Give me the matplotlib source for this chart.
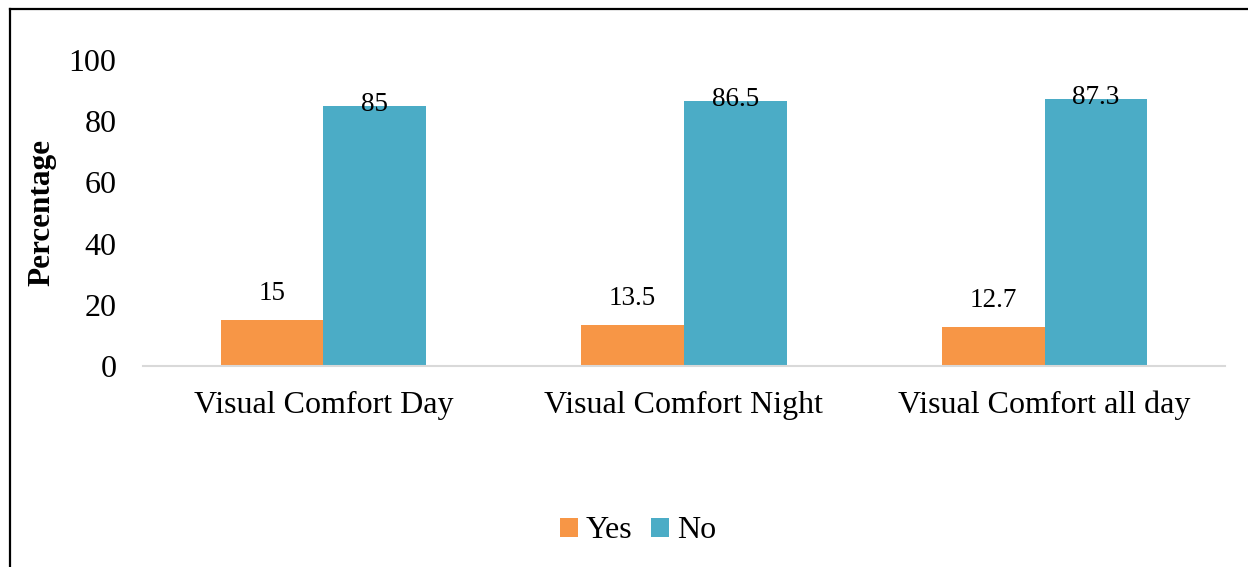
import matplotlib
matplotlib.use("Agg")
import matplotlib.pyplot as plt
import numpy as np
from matplotlib.lines import Line2D

categories = ["Visual Comfort Day", "Visual Comfort Night", "Visual Comfort all day"]
yes_vals = [15, 13.5, 12.7]
no_vals = [85, 86.5, 87.3]
yes_labels = ["15", "13.5", "12.7"]
no_labels = ["85", "86.5", "87.3"]
yticks = [0, 20, 40, 60, 80, 100]

plt.rcParams['font.family'] = ['Liberation Serif', 'DejaVu Serif']

fig = plt.figure(figsize=(12.48, 5.67), dpi=100)
ax = fig.add_axes([143/1248, 1-366/567, (1225-143)/1248, (366-60)/567])

x = np.arange(len(categories))
w = 0.285
c_yes = "#F79646"
c_no = "#4BACC6"
b1 = ax.bar(x - w/2, yes_vals, w, color=c_yes, label="Yes")
b2 = ax.bar(x + w/2, no_vals, w, color=c_no, label="No")

for xi, v, t in zip(x - w/2, yes_vals, yes_labels):
    ax.annotate(t, (xi, v), xytext=(0, 19), textcoords="offset points",
                ha="center", va="center", fontsize=19.5)
for xi, v, t in zip(x + w/2, no_vals, no_labels):
    ax.annotate(t, (xi, v), xytext=(0, 1), textcoords="offset points",
                ha="center", va="center", fontsize=19.5)

ax.set_xlim(-0.5, 2.5)
ax.set_ylim(0, 100)
ax.set_yticks(yticks)
ax.set_xticks(x)
ax.set_xticklabels(categories)
ax.tick_params(axis="both", length=0, labelsize=23)
ax.tick_params(axis="y", pad=19)
ax.tick_params(axis="x", pad=18)
for s in ["top", "right", "left"]:
    ax.spines[s].set_visible(False)
ax.spines["bottom"].set_color("#D9D9D9")
ax.spines["bottom"].set_linewidth(1.5)

fig.text(42/1248, 1-213/567, "Percentage", rotation=90, ha="center", va="center",
         fontsize=22.5, fontweight="bold")

leg = fig.legend(handles=[b1, b2], labels=["Yes", "No"], loc="center",
                 bbox_to_anchor=(638/1248, 1-531/567), ncol=2, frameon=False,
                 fontsize=23, handlelength=0.55, handleheight=0.55, handletextpad=0.25,
                 columnspacing=0.6)

# frame border lines
fig.add_artist(Line2D([9.5/1248, 9.5/1248], [0, 1-8.5/567], color="black", lw=1.6,
                      transform=fig.transFigure))
fig.add_artist(Line2D([9.5/1248, 1], [1-8.5/567, 1-8.5/567], color="black", lw=1.6,
                      transform=fig.transFigure))

fig.savefig("out.png", dpi=100)
